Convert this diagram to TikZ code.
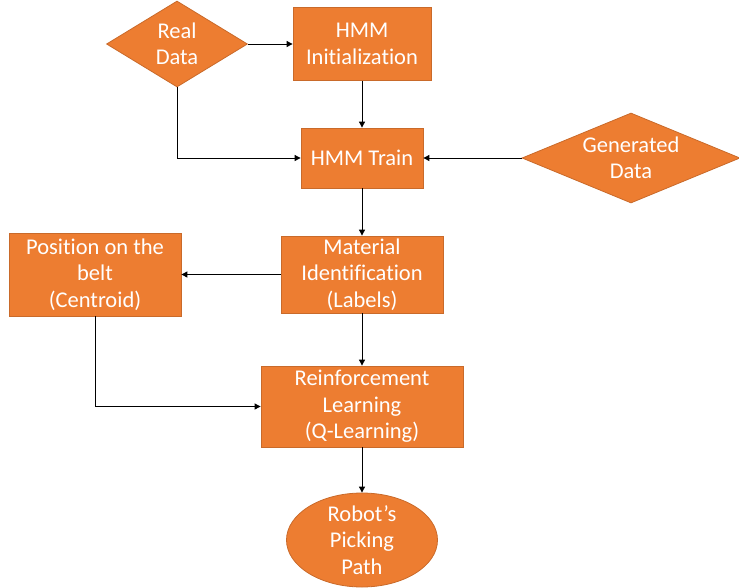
\documentclass[tikz,border=0pt]{standalone}
\usepackage{fontspec}
\setmainfont{Carlito}[Ligatures=NoCommon]
\usetikzlibrary{shapes.geometric,arrows.meta}
\definecolor{boxorange}{HTML}{ED7D31}
\definecolor{boxedge}{HTML}{C96A2A}
\tikzset{
  labelfont/.style={font=\fontsize{22.5}{26.5}\selectfont},
  shapebase/.style={fill=boxorange, draw=boxedge, line width=0.8pt, text=white,
    labelfont, align=center, inner sep=0pt},
  procbox/.style={shapebase, rectangle},
  databox/.style={shapebase, diamond},
  endbox/.style={shapebase, ellipse},
  overlaytext/.style={text=white, labelfont, align=center, inner sep=0pt},
  conn/.style={draw=black, line width=0.9pt, -{Triangle[length=6pt,width=6pt]}}
}
\begin{document}
\begin{tikzpicture}[x=1pt,y=-1pt]
  \useasboundingbox (0,0) rectangle (739,587);
  % process boxes, sized to their drawn extents
  \node[procbox, minimum width=138pt, minimum height=73pt] (init) at (362,44) {HMM\\Initialization};
  \node[procbox, minimum width=122pt, minimum height=60pt] (train) at (362,158) {HMM Train};
  \node[procbox, minimum width=162pt, minimum height=77pt] (mat) at (362,274.5) {Material\\Identification\\(Labels)};
  \node[procbox, minimum width=172pt, minimum height=83pt] (pos) at (95,274.5) {Position on the\\belt\\(Centroid)};
  \node[procbox, minimum width=202pt, minimum height=81pt] (rl) at (362,406.5) {Reinforcement\\Learning\\(Q-Learning)};
  % data inputs
  \node[databox, minimum width=141pt, minimum height=86pt, aspect=1.64] (real) at (177,44) {};
  \node[overlaytext] at (177,44) {Real\\Data};
  \node[databox, minimum width=218pt, minimum height=90pt, aspect=2.42] (gen) at (631,158) {};
  \node[overlaytext] at (631,158) {Generated\\Data};
  % terminal
  \node[endbox, minimum width=151pt, minimum height=94pt] (path) at (362,540) {};
  \node[overlaytext] at (362,540) {Robot’s\\Picking\\Path};
  % connectors
  \draw[conn] (real.east) -- (init.west);
  \draw[conn] (init.south) -- (train.north);
  \draw[conn] (real.south) |- (train.west);
  \draw[conn] (gen.west) -- (train.east);
  \draw[conn] (train.south) -- (mat.north);
  \draw[conn] (mat.west) -- (pos.east);
  \draw[conn] (mat.south) -- (rl.north);
  \draw[conn] (pos.south) |- (rl.west);
  \draw[conn] (rl.south) -- (path.north);
\end{tikzpicture}
\end{document}
